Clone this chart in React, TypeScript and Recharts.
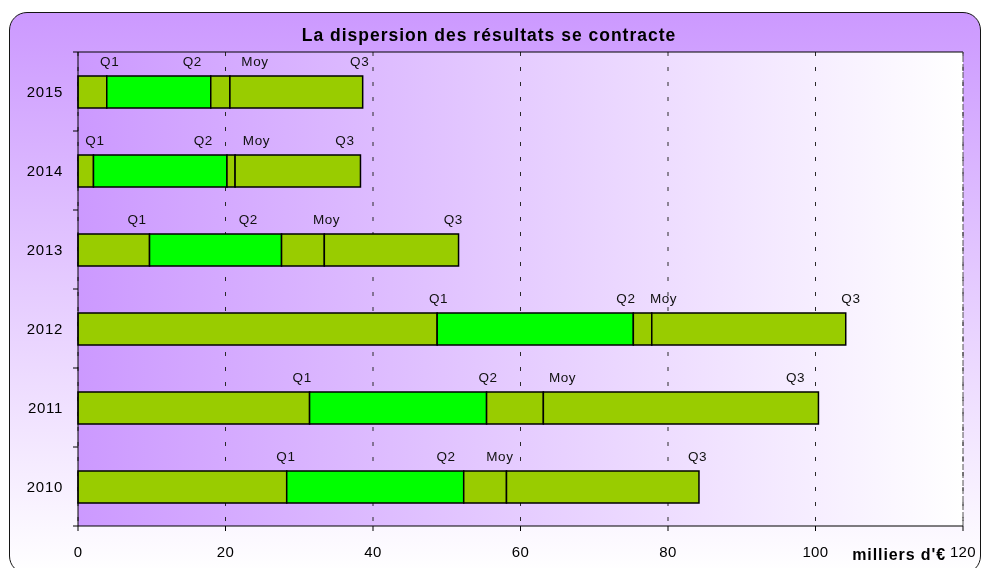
import React from 'react';
import { BarChart, Bar, XAxis, YAxis, CartesianGrid, ReferenceLine, ReferenceDot } from 'recharts';

// ---- data ----
const years = ['2015', '2014', '2013', '2012', '2011', '2010'];
const q1 = [3.9, 2.1, 9.7, 48.7, 31.4, 28.3];
const q2 = [18.0, 20.2, 27.6, 75.3, 55.4, 52.3];
const moy = [20.6, 21.3, 33.4, 77.8, 63.1, 58.1];
const q3 = [38.6, 38.3, 51.6, 104.1, 100.4, 84.2];

// where each text label sits along the axis (in milliers d'€)
const labelQ1 = [4.3, 2.3, 8.0, 48.9, 30.4, 28.2];
const labelQ2 = [15.5, 17.0, 23.1, 74.3, 55.6, 49.9];
const labelMoy = [24.0, 24.2, 33.7, 79.4, 65.7, 57.2];
const labelQ3 = [38.2, 36.2, 50.9, 104.8, 97.3, 84.0];
const labelNames = ['Q1', 'Q2', 'Moy', 'Q3'];

const xTicks = [0, 20, 40, 60, 80, 100, 120];

const title = 'La dispersion des résultats se contracte';
const unit = "milliers d'€";

const data = years.map((year, i) => ({
  year,
  s1: q1[i],
  s2: q2[i] - q1[i],
  s3: moy[i] - q2[i],
  s4: q3[i] - moy[i],
}));

const labelSets = [labelQ1, labelQ2, labelMoy, labelQ3];

const FONT = '"Liberation Sans", Arial, sans-serif';
const OLIVE = '#99cc00';
const GREEN = '#00ff00';
const TICK_SIZE = 5;
const TICK_MARGIN = 10;

const makeLabelShape = (text: string) => (props: any) => (
  <text
    x={props.cx}
    y={props.cy - 26}
    textAnchor="middle"
    fontSize={13.5}
    letterSpacing={0.6}
    fill="#111"
    fontFamily={FONT}
  >
    {text}
  </text>
);

// Year label at the band centre, tick marks at the band boundaries
const YearTick = (props: any) => {
  const { x, y, payload, height, visibleTicksCount, index } = props;
  const half = Number(height) / Number(visibleTicksCount) / 2;
  const ax = x + TICK_SIZE + TICK_MARGIN;
  return (
    <g>
      <line x1={ax - TICK_SIZE} x2={ax} y1={y - half} y2={y - half} stroke="#000" />
      {index === visibleTicksCount - 1 && (
        <line x1={ax - TICK_SIZE} x2={ax} y1={y + half} y2={y + half} stroke="#000" />
      )}
      <text
        x={x}
        y={y}
        dy="0.355em"
        textAnchor="end"
        fontSize={15}
        letterSpacing={0.7}
        fill="#000"
        fontFamily={FONT}
      >
        {payload.value}
      </text>
    </g>
  );
};

export default function App() {
  return (
    <div
      style={{
        position: 'fixed',
        left: 0,
        top: 0,
        width: 982,
        height: 568,
        overflow: 'hidden',
        fontFamily: FONT,
      }}
    >
      <div
        style={{
          position: 'absolute',
          left: 9,
          top: 12,
          width: 972,
          height: 562,
          boxSizing: 'border-box',
          border: '1.5px solid #141414',
          borderRadius: 18,
          background: 'linear-gradient(to bottom, #cc99ff 0%, #ffffff 100%)',
        }}
      />
      <div style={{ position: 'absolute', left: 0, top: 0 }}>
        <BarChart
          width={982}
          height={568}
          data={data}
          layout="vertical"
          barSize={32}
          margin={{ top: 52, right: 19, bottom: 12, left: 18 }}
        >
          <defs>
            <linearGradient id="plotBg" x1="0" y1="0" x2="1" y2="0">
              <stop offset="0" stopColor="#cc99ff" />
              <stop offset="1" stopColor="#ffffff" />
            </linearGradient>
          </defs>
          <CartesianGrid
            horizontal={false}
            vertical
            stroke="#2a2a2a"
            strokeDasharray="4 11"
            fill="url(#plotBg)"
            fillOpacity={1}
          />
          <CartesianGrid
            vertical={false}
            horizontal
            stroke="#000"
            horizontalCoordinatesGenerator={(p: any) => [p.offset.top]}
          />
          <XAxis
            type="number"
            domain={[0, 120]}
            ticks={xTicks}
            height={30}
            tickSize={TICK_SIZE}
            tickMargin={15}
            axisLine={{ stroke: '#000' }}
            tickLine={{ stroke: '#000' }}
            tick={{ fontSize: 15, fill: '#000', fontFamily: FONT, letterSpacing: 0.4 }}
          />
          <YAxis
            type="category"
            dataKey="year"
            width={60}
            tickLine={false}
            axisLine={{ stroke: '#000' }}
            tickSize={TICK_SIZE}
            tickMargin={TICK_MARGIN}
            tick={<YearTick />}
          />
          <ReferenceLine x={120} stroke="#555" strokeDasharray="6 2" />
          <Bar dataKey="s1" stackId="a" fill={OLIVE} stroke="#000" strokeWidth={1.5} isAnimationActive={false} />
          <Bar dataKey="s2" stackId="a" fill={GREEN} stroke="#000" strokeWidth={1.5} isAnimationActive={false} />
          <Bar dataKey="s3" stackId="a" fill={OLIVE} stroke="#000" strokeWidth={1.5} isAnimationActive={false} />
          <Bar dataKey="s4" stackId="a" fill={OLIVE} stroke="#000" strokeWidth={1.5} isAnimationActive={false} />
          {years.flatMap((year, i) =>
            labelSets.map((set, k) => (
              <ReferenceDot
                key={`${year}-${k}`}
                x={set[i]}
                y={year}
                r={0}
                ifOverflow="visible"
                shape={makeLabelShape(labelNames[k])}
              />
            ))
          )}
        </BarChart>
      </div>
      <svg
        width={982}
        height={568}
        style={{ position: 'absolute', left: 0, top: 0, pointerEvents: 'none' }}
      >
        <text
          x={489}
          y={41}
          textAnchor="middle"
          fontSize={17.5}
          fontWeight="bold"
          letterSpacing={1}
          fill="#000"
          fontFamily={FONT}
        >
          {title}
        </text>
        <text
          x={946}
          y={560}
          textAnchor="end"
          fontSize={16}
          fontWeight="bold"
          letterSpacing={0.9}
          fill="#000"
          fontFamily={FONT}
        >
          {unit}
        </text>
      </svg>
    </div>
  );
}
